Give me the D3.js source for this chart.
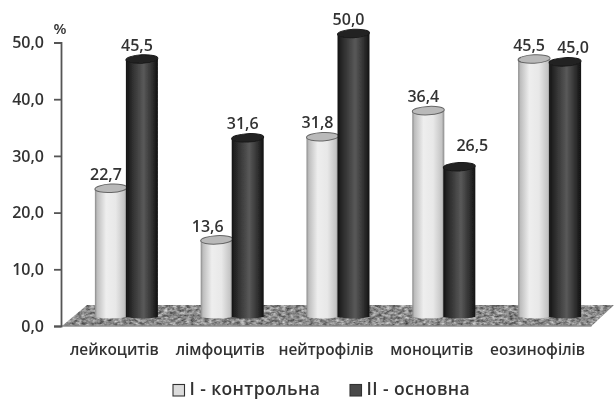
<!DOCTYPE html>
<html>
<head>
<meta charset="utf-8">
<script src="https://cdn.jsdelivr.net/npm/d3@7"></script>
<style>
  html, body { margin: 0; padding: 0; background: #fff; }
  svg { display: block; }
  text { font-family: "Open Sans", sans-serif; font-weight: 600; fill: #333; }
</style>
</head>
<body>
<svg id="chart" width="614" height="399"></svg>
<script>
const categories = ["лейкоцитів", "лімфоцитів", "нейтрофілів", "моноцитів", "еозинофілів"];
const control = [22.7, 13.6, 31.8, 36.4, 45.5];
const main = [45.5, 31.6, 50.0, 26.5, 45.0];
const seriesNames = ["І - контрольна", "ІІ - основна"];
const yTicks = [0, 10, 20, 30, 40, 50];

const fmt = v => v.toFixed(1).replace(".", ",");

let svg = d3.select("#chart");
let defs = svg.append("defs");

// scales
let yScale = d3.scaleLinear().domain([0, 50]).range([326, 42.5]);
let xScale = d3.scaleBand().domain(categories).range([73.5, 602.5]);
let barW = 32;
let baseLift = 9;   // cylinders stand on the floor, above the zero line
let rx = barW / 2, ry = 4.2, tilt = -3;

// cylinder shading
function gradient(id, stops) {
    let g = defs.append("linearGradient").attr("id", id);
    stops.forEach(s => g.append("stop").attr("offset", s[0]).attr("stop-color", s[1]));
}
gradient("lightBar", [[0, "#8a8a8a"], [0.07, "#bdbdbd"], [0.35, "#eeeeee"], [0.65, "#e8e8e8"], [0.92, "#c4c4c4"], [1, "#8a8a8a"]]);
gradient("darkBar", [[0, "#141414"], [0.16, "#2a2a2a"], [0.55, "#595959"], [0.84, "#2c2c2c"], [1, "#111"]]);

// speckled floor
let noise = defs.append("filter").attr("id", "speckle")
    .attr("x", 0).attr("y", 0).attr("width", 1).attr("height", 1)
    .attr("color-interpolation-filters", "sRGB");
noise.append("feTurbulence").attr("type", "fractalNoise")
    .attr("baseFrequency", "0.22 0.4").attr("numOctaves", 3).attr("seed", 4);
noise.append("feColorMatrix").attr("type", "matrix")
    .attr("values", "0.8 0 0 0 0.14  0.8 0 0 0 0.14  0.8 0 0 0 0.14  0 0 0 0 1");
noise.append("feComposite").attr("in2", "SourceGraphic").attr("operator", "in");

defs.append("filter").attr("id", "soft")
    .append("feGaussianBlur").attr("stdDeviation", 0.35);

let root = svg.append("g").attr("filter", "url(#soft)");

// floor
let floorBack = yScale(0) - 21;
let floorPts = [
    [xScale.range()[0] - 11.5, yScale(0)],
    [xScale.range()[0] + 13.5, floorBack],
    [xScale.range()[1] + 11.5, floorBack],
    [xScale.range()[1] - 11, yScale(0)]
];
root.append("polygon")
    .attr("points", floorPts.map(p => p.join(",")).join(" "))
    .attr("fill", "#888")
    .attr("filter", "url(#speckle)");
root.append("line")
    .attr("x1", floorPts[0][0]).attr("x2", floorPts[3][0])
    .attr("y1", yScale(0)).attr("y2", yScale(0))
    .attr("stroke", "#8c8c8c").attr("stroke-width", 1.5);

// y axis
let yAxis = d3.axisLeft(yScale).tickValues(yTicks).tickFormat(fmt).tickSize(7).tickPadding(10);
let yAxisGroup = root.append("g").attr("transform", "translate(61,0)").call(yAxis);
yAxisGroup.selectAll("path, line").attr("stroke", "#555").attr("stroke-width", 1.8);
yAxisGroup.selectAll("text").attr("font-size", 16).attr("fill", "#333")
    .attr("font-family", "'Open Sans', sans-serif");

root.append("text").attr("x", 60).attr("y", 33.5).attr("text-anchor", "middle")
    .attr("font-size", 15).text("%");

// x labels
root.selectAll(".cat")
    .data(categories)
    .enter()
    .append("text")
    .attr("class", "cat")
    .attr("x", d => xScale(d) + xScale.bandwidth() / 2 - 12)
    .attr("y", 355)
    .attr("text-anchor", "middle")
    .attr("font-size", 15.4)
    .text(d => d);

// one cylinder: body with rounded bottom, tilted lid on top
function cylinder(cx, top, fillId, lid, lidStroke) {
    let base = yScale(0) - baseLift;
    let p = d3.path();
    p.moveTo(cx - rx, top);
    p.lineTo(cx + rx, top);
    p.lineTo(cx + rx, base);
    p.quadraticCurveTo(cx, base + 3.2, cx - rx, base);
    p.closePath();
    let g = root.append("g");
    g.append("path").attr("d", p.toString()).attr("fill", `url(#${fillId})`);
    g.append("ellipse")
        .attr("cx", cx).attr("cy", top)
        .attr("rx", rx).attr("ry", ry)
        .attr("transform", `rotate(${tilt} ${cx} ${top})`)
        .attr("fill", lid)
        .attr("stroke", lidStroke)
        .attr("stroke-width", 1);
}

// label nudges where the original was moved by hand: [series, category index, dx, dy]
let nudges = [[0, 1, -4, 1], [1, 3, 18, -7], [1, 4, 13, 0]];

function valueLabel(cx, top, value, s, i) {
    let n = nudges.find(d => d[0] === s && d[1] === i) || [s, i, 0, 0];
    root.append("text")
        .attr("x", cx - 5 + n[2])
        .attr("y", top - 8.5 + n[3])
        .attr("text-anchor", "middle")
        .attr("font-size", 16)
        .text(fmt(value));
}

categories.forEach((c, i) => {
    let mid = xScale(c) + xScale.bandwidth() / 2;
    let topA = yScale(control[i]) - baseLift;
    let topB = yScale(main[i]) - baseLift;
    cylinder(mid - barW / 2 + 0.5, topA, "lightBar", "#b9b9b9", "#666");
    cylinder(mid + barW / 2 - 0.5, topB, "darkBar", "#232323", "#1a1a1a");
    valueLabel(mid - barW / 2 + 0.5, topA, control[i], 0, i);
    valueLabel(mid + barW / 2 - 0.5, topB, main[i], 1, i);
});

// legend
let legendX = [173, 350];
let legendFill = ["#dcdcdc", "#484848"];
seriesNames.forEach((name, i) => {
    root.append("rect")
        .attr("x", legendX[i]).attr("y", 384.5)
        .attr("width", 11.5).attr("height", 11.5)
        .attr("fill", legendFill[i])
        .attr("stroke", "#333").attr("stroke-width", 1.1);
    root.append("text")
        .attr("x", legendX[i] + 16.5).attr("y", 395)
        .attr("font-size", 17.5)
        .attr("letter-spacing", 0.4)
        .text(name);
});
</script>
</body>
</html>
